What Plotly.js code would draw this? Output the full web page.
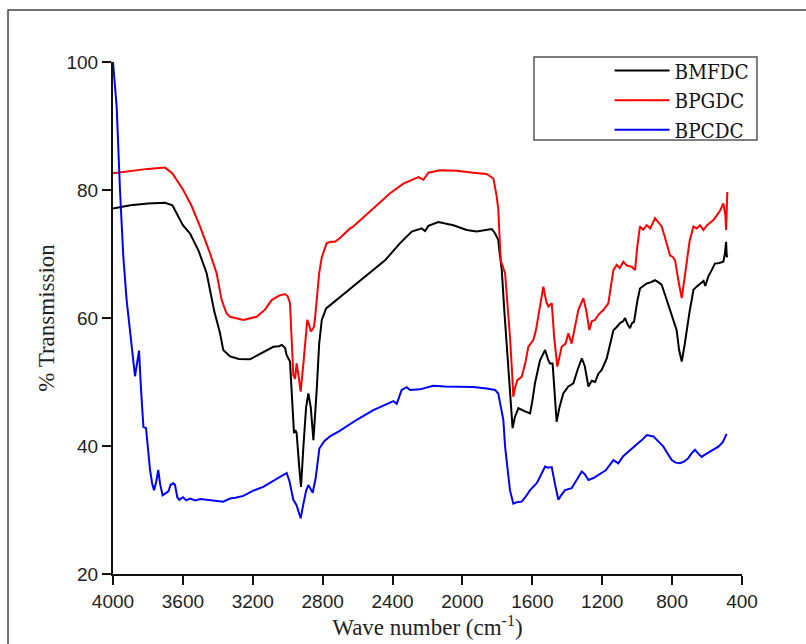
<!DOCTYPE html>
<html>
<head>
<meta charset="utf-8">
<script src="https://cdn.plot.ly/plotly-3.0.1.min.js"></script>
<style>
html,body{margin:0;padding:0;background:#fff;}
#chart{width:806px;height:644px;}
</style>
</head>
<body>
<div id="chart"></div>
<script>
// Series names
const seriesNames = ["BMFDC", "BPGDC", "BPCDC"];
const seriesColors = ["#000000", "#ff0000", "#0000ff"];

// BMFDC (black)
const bmfdcX = [4000,3900,3800,3702,3660,3635,3600,3559,3510,3464,3420,3388,3369,3330,3280,3216,3140,3082,3050,3034,3015,3006,2987,2975,2964,2956,2949,2935,2924,2910,2895,2882,2868,2853,2845,2834,2820,2805,2780,2758,2700,2643,2550,2443,2357,2290,2233,2214,2195,2138,2052,1976,1919,1852,1832,1813,1795,1789,1775,1760,1746,1730,1713,1700,1680,1642,1613,1600,1585,1556,1527,1510,1499,1484,1472,1461,1445,1423,1394,1365,1340,1317,1300,1279,1260,1241,1222,1203,1174,1155,1136,1117,1098,1080,1069,1055,1041,1030,1018,1000,984,965,945,920,898,880,860,840,812,790,774,760,745,730,717,700,690,678,660,640,620,610,593,575,555,530,507,498,491,487,484];
const bmfdcY = [77.1,77.6,77.9,78.0,77.6,76.4,74.5,73.2,70.5,67,61,57.7,55,54,53.6,53.55,54.7,55.5,55.6,55.8,55.3,54.2,53.2,48,42,42.5,42,37,33.6,40,46,48.2,46,40.9,44,48.8,56,59.7,61.5,62,63.3,64.6,66.6,69,71.7,73.5,74,73.6,74.4,75,74.5,73.75,73.5,73.9,73.9,73.2,72.2,70.6,67.5,61,55.5,48,42.8,44.5,45.9,45.4,45.1,47,49.8,53.4,55,53.5,52.9,52.9,48,43.8,46,48.2,49.3,49.8,52,53.7,52.5,49.3,50.2,50,51.3,51.9,53.7,56,58.1,58.6,59.2,59.5,60,59,58.4,59.2,59.4,62.5,64.6,65,65.4,65.6,65.9,65.6,65.2,63.6,61.25,59.5,58.1,55,53.2,55.5,58.1,61,62.5,64.4,64.9,65.4,65.8,65,66.5,67.4,68.5,68.6,68.8,70,71.9,69.5,69.8];

// BPGDC (red)
const bpgdcX = [4000,3900,3800,3702,3660,3598,3550,3502,3450,3407,3378,3350,3330,3254,3178,3130,3092,3050,3016,3000,2987,2978,2968,2958,2949,2938,2926,2910,2895,2888,2876,2868,2858,2849,2842,2834,2820,2805,2777,2750,2729,2701,2643,2625,2510,2414,2338,2252,2223,2195,2128,2033,1938,1862,1823,1804,1795,1789,1781,1775,1756,1745,1728,1715,1709,1700,1686,1661,1640,1623,1594,1580,1566,1550,1537,1520,1508,1489,1475,1457,1445,1432,1410,1394,1375,1355,1337,1308,1290,1274,1260,1241,1222,1194,1165,1150,1136,1117,1100,1079,1060,1031,1012,1000,984,965,945,925,898,880,860,840,812,795,783,765,745,730,717,700,678,660,640,621,600,580,564,545,525,507,495,491,487,484];
const bpgdcY = [82.6,83,83.3,83.5,82.6,80,77.5,74.3,70.5,67,62.8,60.7,60.2,59.7,60.2,61.3,62.8,63.5,63.75,63.4,62.3,57,51.1,50.5,52.9,51,48.5,53,57.5,59.7,58.8,57.9,58.2,58.7,60.5,62.8,67,69.5,71.7,71.9,71.9,72.5,74,74.3,77.1,79.5,81,82,81.6,82.7,83.1,83,82.7,82.5,81.8,79,77,73.2,69,68.5,67,63,57.1,51,47.7,49,50.3,50.8,53,55.5,56.6,58,60.2,63,64.9,62.5,61.8,62.3,57,52.4,54,55.5,56,57.6,56,59,61.25,63.1,61,58.1,59.5,59.7,60.5,61.25,62.3,65,67.5,68.3,67.8,68.8,68.2,68,67.5,71,74.3,73.8,74.5,74,75.6,75,74.3,72.5,69.8,69.5,69,66,63.1,66,68.5,72,74.3,74,74.5,73.75,74.5,75,75.3,76,76.8,77.9,76,73.75,78,79.7];

// BPCDC (blue)
const bpcdcX = [4000,3979,3960,3941,3922,3893,3874,3862,3851,3840,3826,3811,3800,3788,3775,3765,3752,3741,3730,3716,3700,3683,3670,3664,3655,3645,3632,3620,3600,3580,3559,3530,3500,3464,3430,3400,3369,3330,3300,3254,3200,3140,3080,3040,3006,2990,2980,2968,2950,2935,2926,2910,2895,2882,2870,2857,2840,2819,2790,2758,2700,2643,2605,2510,2414,2395,2376,2348,2319,2300,2243,2167,2100,2033,1938,1862,1813,1795,1785,1766,1756,1740,1728,1709,1690,1661,1640,1613,1575,1550,1527,1510,1489,1470,1451,1435,1413,1375,1345,1317,1300,1279,1250,1222,1180,1136,1108,1080,1041,1000,970,945,907,880,850,825,802,780,755,730,707,690,669,650,631,610,583,560,535,510,495,488];
const bpcdcY = [100,93,80,69.6,62.8,56,50.9,53,54.9,49,43,42.8,39,36.25,34,33.1,34.5,36.25,34,32.3,32.6,32.9,34,34,34.2,33.9,32,31.6,32,31.5,31.8,31.5,31.7,31.6,31.5,31.5,31.3,31.8,31.9,32.2,33,33.6,34.6,35.2,35.8,34.5,33,31.6,30.8,29.5,28.7,31,33,33.9,33.3,32.7,35,39.6,40.8,41.5,42.4,43.5,44.1,45.6,46.7,47,46.6,48.75,49.2,48.75,48.85,49.4,49.3,49.3,49.2,49,48.75,48.2,46.7,44.1,39.9,36,33.1,31,31.2,31.3,32,33.1,34.2,35.5,36.8,36.6,36.7,34,31.6,32.3,33.1,33.4,34.8,36,35.6,34.7,35,35.5,36.2,37.8,37.3,38.4,39.4,40.3,41,41.7,41.5,40.8,39.9,38.8,37.8,37.4,37.3,37.6,38.1,38.8,39.4,38.8,38.3,38.7,39.1,39.4,39.9,40.6,41.5,41.9];

// Axis ticks
const xTicks = [4000,3600,3200,2800,2400,2000,1600,1200,800,400];
const yTicks = [20,40,60,80,100];

const xs = [bmfdcX, bpgdcX, bpcdcX];
const ys = [bmfdcY, bpgdcY, bpcdcY];

const traces = seriesNames.map((name, i) => ({
  type: "scatter",
  mode: "lines",
  name: name,
  x: xs[i],
  y: ys[i],
  line: {color: seriesColors[i], width: 2},
  cliponaxis: false
}));

const tickFont = {family: "Liberation Sans, Arial, sans-serif", size: 19, color: "#222"};
const titleFont = {family: "Liberation Serif, Times New Roman, serif", size: 23, color: "#222"};

const layout = {
  width: 806,
  height: 644,
  margin: {l: 113, r: 64, t: 62, b: 70},
  paper_bgcolor: "#ffffff",
  plot_bgcolor: "#ffffff",
  showlegend: true,
  xaxis: {
    range: [4000, 400],
    tickvals: xTicks,
    ticktext: xTicks.map(String),
    ticks: "outside",
    ticklen: 9,
    tickwidth: 2,
    tickcolor: "#111",
    showline: true,
    linecolor: "#111",
    linewidth: 2,
    showgrid: false,
    zeroline: false,
    tickfont: tickFont,
    title: {text: "Wave number (cm<sup>-1</sup>)", font: titleFont, standoff: 5}
  },
  yaxis: {
    range: [20, 100],
    tickvals: yTicks,
    ticktext: yTicks.map(String),
    ticks: "outside",
    ticklen: 9,
    tickwidth: 2,
    tickcolor: "#111",
    showline: true,
    linecolor: "#111",
    linewidth: 2,
    showgrid: false,
    zeroline: false,
    tickfont: tickFont,
    title: {text: "% Transmission", font: titleFont, standoff: 5}
  },
  legend: {
    x: 1.02,
    xanchor: "right",
    y: 1.022,
    yanchor: "top",
    bgcolor: "rgba(0,0,0,0)",
    borderwidth: 0,
    itemwidth: 55,
    font: {family: "DejaVu Serif Condensed, DejaVu Serif, serif", size: 20.5, color: "#111"}
  },
  shapes: [
    {type: "rect", xref: "paper", yref: "paper", x0: 0.6693, x1: 1.0238, y0: 0.8477, y1: 1.0098,
     line: {color: "#555", width: 1.5}, fillcolor: "rgba(0,0,0,0)"},
    {type: "rect", xref: "paper", yref: "paper", x0: -0.1669, x1: 1.3, y0: -0.3, y1: 1.1016,
     line: {color: "#444", width: 1.5}, fillcolor: "rgba(0,0,0,0)"}
  ]
};

Plotly.newPlot("chart", traces, layout, {displayModeBar: false, staticPlot: true});
</script>
</body>
</html>
